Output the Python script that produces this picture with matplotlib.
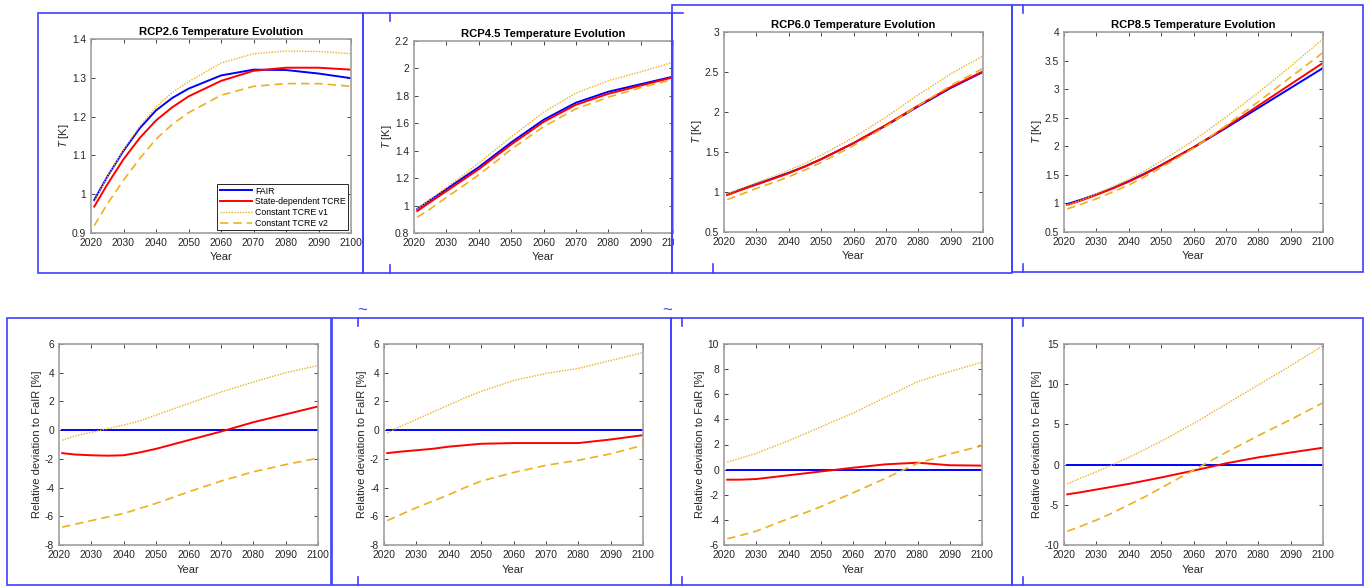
import matplotlib
matplotlib.use('Agg')
import matplotlib.pyplot as plt
from matplotlib.patches import Rectangle
from matplotlib.lines import Line2D
from matplotlib.ticker import FormatStrFormatter

plt.rcParams['font.family'] = ['Liberation Sans', 'DejaVu Sans']
plt.rcParams['mathtext.fontset'] = 'custom'
plt.rcParams['mathtext.it'] = 'Liberation Sans:italic'
plt.rcParams['mathtext.rm'] = 'Liberation Sans'

# годы, в которых сняты значения с картинки
years = [2021, 2025, 2030, 2035, 2040, 2045, 2050, 2060, 2070, 2080, 2090, 2100]

# RCP2.6, температура [K]
t26_fair  = [0.985, 1.045, 1.112, 1.170, 1.216, 1.248, 1.272, 1.306, 1.321, 1.320, 1.311, 1.299]
t26_state = [0.968, 1.025, 1.090, 1.145, 1.190, 1.224, 1.252, 1.292, 1.318, 1.326, 1.326, 1.321]
t26_v1    = [0.980, 1.045, 1.115, 1.175, 1.225, 1.262, 1.290, 1.338, 1.362, 1.369, 1.368, 1.362]
t26_v2    = [0.919, 0.975, 1.036, 1.092, 1.142, 1.180, 1.210, 1.255, 1.278, 1.285, 1.285, 1.278]

# RCP4.5
t45_fair  = [0.975, 1.040, 1.120, 1.200, 1.280, 1.370, 1.460, 1.625, 1.750, 1.830, 1.885, 1.940]
t45_state = [0.960, 1.025, 1.105, 1.185, 1.265, 1.355, 1.445, 1.610, 1.735, 1.815, 1.875, 1.935]
t45_v1    = [0.975, 1.045, 1.130, 1.220, 1.310, 1.405, 1.500, 1.680, 1.820, 1.910, 1.975, 2.045]
t45_v2    = [0.915, 0.975, 1.060, 1.140, 1.225, 1.315, 1.410, 1.575, 1.705, 1.790, 1.860, 1.920]

# RCP6.0
t60_fair  = [0.970, 1.030, 1.100, 1.170, 1.240, 1.320, 1.410, 1.610, 1.830, 2.070, 2.300, 2.500]
t60_state = [0.962, 1.022, 1.092, 1.163, 1.235, 1.318, 1.410, 1.612, 1.838, 2.080, 2.310, 2.508]
t60_v1    = [0.975, 1.040, 1.115, 1.190, 1.270, 1.360, 1.460, 1.680, 1.935, 2.215, 2.475, 2.700]
t60_v2    = [0.905, 0.965, 1.045, 1.115, 1.190, 1.275, 1.370, 1.580, 1.820, 2.080, 2.330, 2.545]

# RCP8.5
t85_fair  = [0.990, 1.060, 1.160, 1.270, 1.390, 1.525, 1.670, 1.980, 2.320, 2.670, 3.020, 3.370]
t85_state = [0.975, 1.045, 1.150, 1.260, 1.380, 1.515, 1.665, 1.980, 2.335, 2.710, 3.085, 3.460]
t85_v1    = [0.970, 1.050, 1.170, 1.290, 1.420, 1.575, 1.740, 2.100, 2.510, 2.940, 3.400, 3.880]
t85_v2    = [0.905, 0.980, 1.080, 1.200, 1.320, 1.470, 1.625, 1.965, 2.360, 2.780, 3.210, 3.640]

# отклонение от FaIR [%]
dev_fair = [0, 0, 0, 0, 0, 0, 0, 0, 0, 0, 0, 0]

d26_state = [-1.60, -1.70, -1.75, -1.78, -1.75, -1.55, -1.30, -0.70, -0.10, 0.55, 1.10, 1.65]
d26_v1    = [-0.70, -0.40, -0.15, 0.10, 0.35, 0.65, 1.05, 1.85, 2.65, 3.35, 4.00, 4.50]
d26_v2    = [-6.75, -6.55, -6.30, -6.05, -5.80, -5.45, -5.10, -4.30, -3.55, -2.90, -2.40, -1.95]

d45_state = [-1.60, -1.50, -1.40, -1.30, -1.15, -1.05, -0.95, -0.90, -0.90, -0.90, -0.65, -0.35]
d45_v1    = [-0.20, 0.25, 0.75, 1.25, 1.75, 2.25, 2.70, 3.45, 3.95, 4.30, 4.85, 5.40]
d45_v2    = [-6.30, -5.90, -5.40, -4.95, -4.50, -4.00, -3.55, -2.95, -2.45, -2.10, -1.65, -1.05]

d60_state = [-0.80, -0.80, -0.75, -0.60, -0.45, -0.30, -0.15, 0.15, 0.42, 0.55, 0.35, 0.32]
d60_v1    = [0.60, 0.90, 1.30, 1.80, 2.30, 2.85, 3.40, 4.50, 5.75, 7.00, 7.80, 8.55]
d60_v2    = [-5.50, -5.25, -4.90, -4.40, -3.90, -3.45, -2.95, -1.85, -0.70, 0.50, 1.25, 1.90]

d85_state = [-3.70, -3.45, -3.10, -2.75, -2.40, -2.00, -1.60, -0.75, 0.15, 0.90, 1.50, 2.10]
d85_v1    = [-2.40, -1.70, -0.90, 0.00, 0.90, 1.90, 2.90, 5.10, 7.50, 9.90, 12.30, 14.80]
d85_v2    = [-8.30, -7.70, -6.90, -6.00, -5.00, -4.00, -2.90, -0.70, 1.50, 3.60, 5.60, 7.70]

labels = ['FAIR', 'State-dependent TCRE', 'Constant TCRE v1', 'Constant TCRE v2']
titles = ['RCP2.6 Temperature Evolution', 'RCP4.5 Temperature Evolution',
          'RCP6.0 Temperature Evolution', 'RCP8.5 Temperature Evolution']

W, H = 1366, 586
fig = plt.figure(figsize=(W / 100, H / 100), dpi=100)
fig.patch.set_facecolor('white')

BLUE = (0.25, 0.25, 1.0)
ORANGE = '#EDB120'
styles = [
    dict(color='#0000FF', lw=1.4, ls='-'),
    dict(color='#FF0000', lw=1.4, ls='-'),
    dict(color=ORANGE, lw=1.0, ls=(0, (1, 1))),
    dict(color=ORANGE, lw=1.2, ls=(0, (5, 3))),
]


def px_axes(l, t, r, b):
    return fig.add_axes([l / W, 1 - b / H, (r - l) / W, (b - t) / H])


def style_axes(ax, ylim, yticks, xlabelpad):
    ax.set_xlim(2020, 2100)
    ax.set_xticks(range(2020, 2101, 10))
    ax.set_ylim(*ylim)
    ax.set_yticks(yticks)
    ax.yaxis.set_major_formatter(FormatStrFormatter('%g'))
    ax.tick_params(direction='in', length=3, width=0.6, colors='#262626',
                   labelsize=7.4, top=True, right=True, pad=3.5)
    for s in ax.spines.values():
        s.set_color('#A0A0A0')
        s.set_linewidth(1.2)
    ax.set_xlabel('Year', fontsize=8, color='#262626', labelpad=xlabelpad)


def frame(l, t, r, b):
    fig.add_artist(Rectangle((l / W, 1 - b / H), (r - l) / W, (b - t) / H,
                             transform=fig.transFigure, fill=False,
                             ec=BLUE, lw=1.2, zorder=3))


def mark(x, y0, y1):
    fig.add_artist(Line2D([x / W, x / W], [1 - y0 / H, 1 - y1 / H],
                          transform=fig.transFigure, color=BLUE, lw=1.2, zorder=3))


# верхний ряд: температура
top_boxes = [(91, 39, 351, 233), (414, 41, 673, 233), (724, 32, 983, 232), (1064, 32, 1323, 232)]
top_data = [
    [t26_fair, t26_state, t26_v1, t26_v2],
    [t45_fair, t45_state, t45_v1, t45_v2],
    [t60_fair, t60_state, t60_v1, t60_v2],
    [t85_fair, t85_state, t85_v1, t85_v2],
]
top_lims = [((0.9, 1.4), [0.9, 1.0, 1.1, 1.2, 1.3, 1.4]),
            ((0.8, 2.2), [0.8, 1.0, 1.2, 1.4, 1.6, 1.8, 2.0, 2.2]),
            ((0.5, 3.0), [0.5, 1.0, 1.5, 2.0, 2.5, 3.0]),
            ((0.5, 4.0), [0.5, 1.0, 1.5, 2.0, 2.5, 3.0, 3.5, 4.0])]

for i in range(4):
    ax = px_axes(*top_boxes[i])
    for series, st, lab in zip(top_data[i], styles, labels):
        ax.plot(years, series, label=lab, **st)
    style_axes(ax, *top_lims[i], xlabelpad=3)
    ax.set_ylabel('$T$ [K]', fontsize=8, color='#262626', labelpad=0.5)
    ax.set_title(titles[i], fontsize=8.1, fontweight='bold', color='#000000', pad=3)
    if i == 0:
        leg = ax.legend(loc='lower right', fontsize=6.3, handlelength=3.6,
                        borderpad=0.3, labelspacing=0.2, handletextpad=0.4,
                        fancybox=False, framealpha=1, borderaxespad=0.3)
        leg.get_frame().set_edgecolor('#262626')
        leg.get_frame().set_linewidth(0.7)

# нижний ряд: относительное отклонение
bot_boxes = [(59, 344, 318, 545), (384, 344, 643, 545), (724, 344, 982, 545), (1064, 344, 1323, 545)]
bot_data = [
    [dev_fair, d26_state, d26_v1, d26_v2],
    [dev_fair, d45_state, d45_v1, d45_v2],
    [dev_fair, d60_state, d60_v1, d60_v2],
    [dev_fair, d85_state, d85_v1, d85_v2],
]
bot_lims = [((-8, 6), list(range(-8, 7, 2))),
            ((-8, 6), list(range(-8, 7, 2))),
            ((-6, 10), list(range(-6, 11, 2))),
            ((-10, 15), list(range(-10, 16, 5)))]

for i in range(4):
    ax = px_axes(*bot_boxes[i])
    for series, st in zip(bot_data[i], styles):
        ax.plot(years, series, **st)
    style_axes(ax, *bot_lims[i], xlabelpad=4)
    ax.set_ylabel('Relative deviation to FaIR [%]', fontsize=8, color='#262626', labelpad=2)

# кусок подписи "2100" второго графика закрыт соседней рамкой
fig.add_artist(Rectangle((673.5 / W, 1 - 252 / H), 26 / W, 18 / H,
                         transform=fig.transFigure, fc='white', ec='none', zorder=2))

# синие рамки скриншота
frame(38, 13, 363, 273)
frame(363, 13, 672, 273)
frame(672, 5, 1012, 273)
frame(1012, 5, 1363, 272)
frame(7, 318, 331, 585)
frame(332, 318, 671, 585)
frame(671, 318, 1012, 585)
frame(1012, 318, 1363, 585)

mark(390, 13, 21)
mark(390, 265, 273)
mark(713, 264, 273)
mark(1023, 5, 13)
mark(1023, 264, 272)
mark(358, 318, 326)
mark(358, 577, 585)
mark(682, 318, 326)
mark(682, 577, 585)
mark(1023, 318, 326)
mark(1023, 577, 585)
fig.add_artist(Line2D([672 / W, 683 / W], [1 - 13 / H, 1 - 13 / H],
                      transform=fig.transFigure, color=BLUE, lw=1.2, zorder=3))

for x in (362, 667):
    fig.text(x / W, 1 - 311 / H, '~', color=BLUE, ha='center', va='center', fontsize=12)

fig.savefig('out.png', dpi=100)
